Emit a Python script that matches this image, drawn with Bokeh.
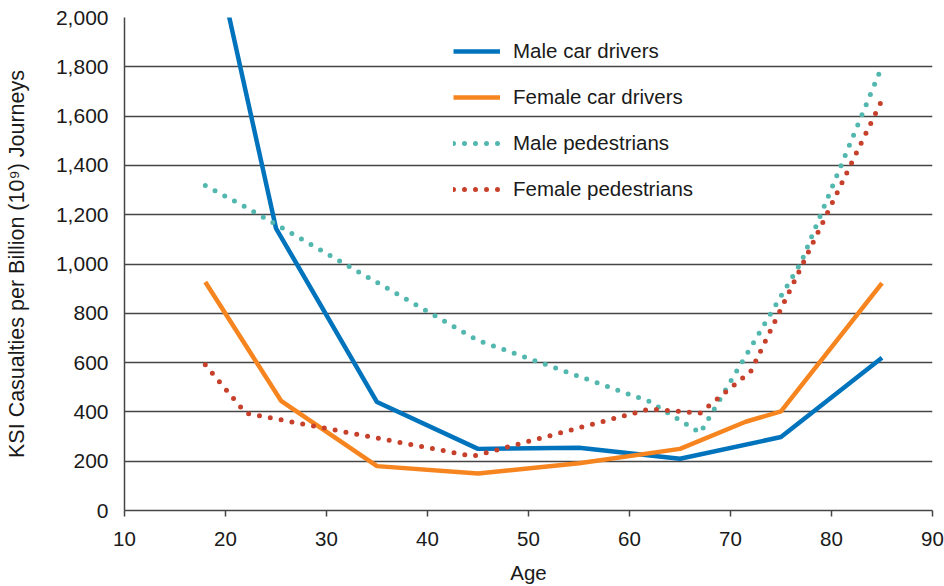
from bokeh.plotting import figure
from bokeh.models import Range1d, FixedTicker, NumeralTickFormatter, Legend, LegendItem
from bokeh.embed import file_html
from bokeh.resources import INLINE

# ---- data ----
male_drivers_age = [18, 25, 35, 45, 55, 65, 75, 85]
male_drivers = [2440, 1145, 440, 250, 255, 210, 298, 620]

female_drivers_age = [18, 25.5, 35, 45, 55, 65, 71.5, 75, 85]
female_drivers = [927, 445, 180, 150, 192, 250, 360, 402, 922]

male_ped_age = [18, 22, 45, 62, 67, 77, 85]
male_ped = [1318, 1231, 690, 442, 315, 1008, 1802]

female_ped_age = [18, 22, 44.5, 62, 67, 72, 85]
female_ped = [591, 395, 220, 412, 395, 564, 1665]

x_ticks = [10, 20, 30, 40, 50, 60, 70, 80, 90]
y_ticks = [0, 200, 400, 600, 800, 1000, 1200, 1400, 1600, 1800, 2000]

FONT = "Liberation Sans"

p = figure(width=944, height=586, output_backend="svg", toolbar_location=None,
           x_range=Range1d(10, 90), y_range=Range1d(0, 2000),
           min_border_left=124, min_border_right=12, min_border_top=17, min_border_bottom=75)
p.outline_line_color = None
p.background_fill_color = "white"

# grid
p.xgrid.grid_line_color = None
p.ygrid.grid_line_color = "#454545"
p.ygrid.grid_line_width = 1.5
p.ygrid.ticker = FixedTicker(ticks=y_ticks)

# axes
p.xaxis.ticker = FixedTicker(ticks=x_ticks)
p.yaxis.ticker = FixedTicker(ticks=y_ticks)
p.yaxis.formatter = NumeralTickFormatter(format="0,0")
for ax in (p.xaxis[0], p.yaxis[0]):
    ax.axis_line_color = "#454545"
    ax.axis_line_width = 1.5
    ax.major_label_text_font = FONT
    ax.major_label_text_font_size = "20.5px"
    ax.major_label_text_color = "#1a1a1a"
    ax.axis_label_text_font = FONT
    ax.axis_label_text_font_size = "20.5px"
    ax.axis_label_text_font_style = "normal"
    ax.axis_label_text_color = "#1a1a1a"
    ax.minor_tick_line_color = None

p.yaxis.major_label_text_font_size = "21px"
p.yaxis.axis_label_text_font_size = "21.5px"

p.xaxis.major_tick_in = 0
p.xaxis.major_tick_out = 6
p.xaxis.major_tick_line_color = "#454545"
p.xaxis.major_tick_line_width = 1.5
p.xaxis.major_label_standoff = 15
p.xaxis.axis_label = "Age"
p.xaxis.axis_label_standoff = 12

p.yaxis.major_tick_in = 0
p.yaxis.major_tick_out = 0
p.yaxis.major_label_standoff = 16
p.yaxis.axis_label = "KSI Casualties per Billion (10\u2079) Journeys"
p.yaxis.axis_label_standoff = 24

# series
r1 = p.line(male_drivers_age, male_drivers, line_color="#0073bd", line_width=4.5)
r2 = p.line(female_drivers_age, female_drivers, line_color="#f6851f", line_width=4.5)
r3 = p.line(male_ped_age, male_ped, line_color="#52b7ae", line_width=5,
            line_dash="0 11", line_cap="round")
r4 = p.line(female_ped_age, female_ped, line_color="#c7402b", line_width=5,
            line_dash="0 11", line_cap="round")

legend = Legend(items=[
    LegendItem(label="Male car drivers", renderers=[r1]),
    LegendItem(label="Female car drivers", renderers=[r2]),
    LegendItem(label="Male pedestrians", renderers=[r3]),
    LegendItem(label="Female pedestrians", renderers=[r4]),
], location=(329, 309))
legend.background_fill_alpha = 0
legend.border_line_alpha = 0
legend.padding = 0
legend.margin = 0
legend.glyph_width = 47
legend.glyph_height = 20
legend.label_height = 20
legend.spacing = 22
legend.label_standoff = 13
legend.label_text_font = FONT
legend.label_text_font_size = "20.5px"
legend.label_text_color = "#1a1a1a"
p.add_layout(legend, "center")

open("out.html", "w").write(file_html(p, INLINE))
